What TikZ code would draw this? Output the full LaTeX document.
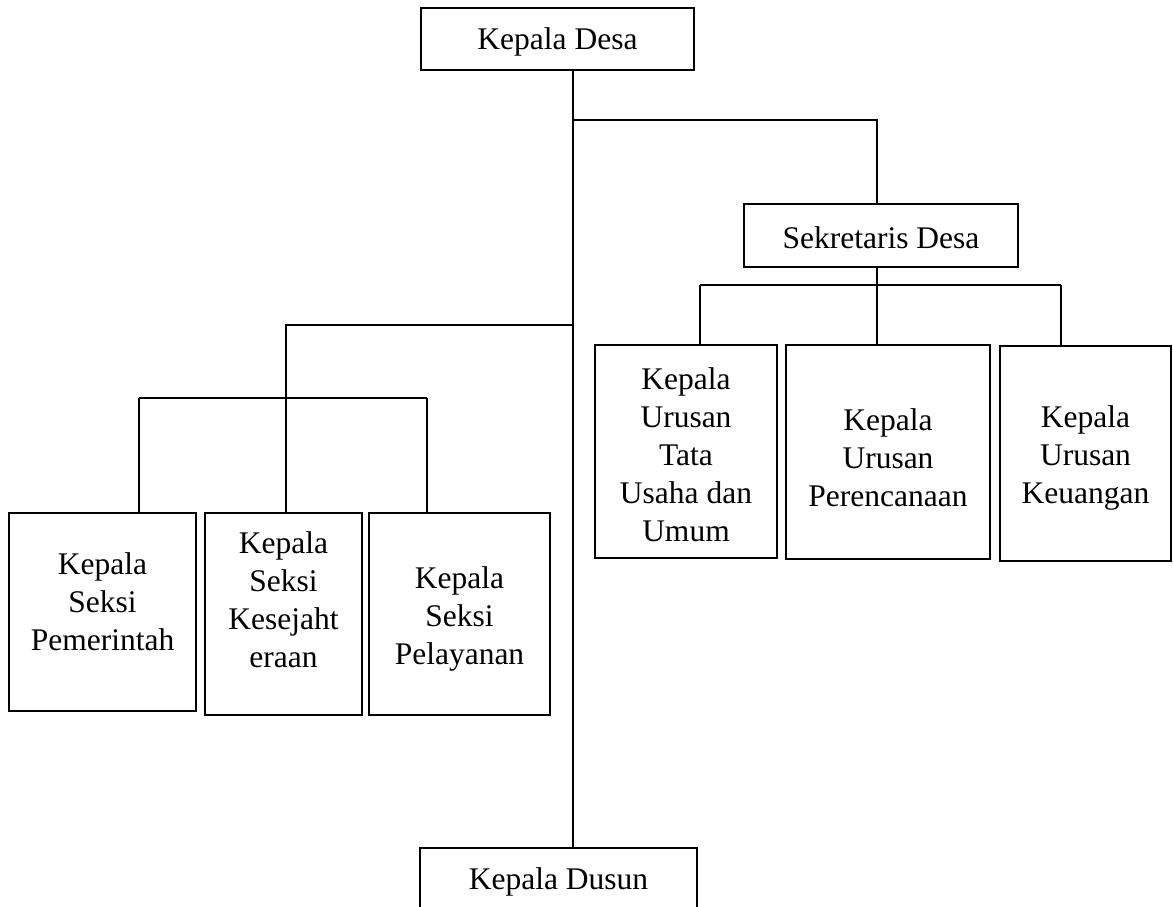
\documentclass[tikz,border=0pt]{standalone}
\usepackage{fontspec}
\setmainfont{Liberation Serif}
\begin{document}
\begin{tikzpicture}[x=1pt,y=-1pt,
  box/.style={draw=black,line width=2.8pt,fill=white,inner sep=0pt,font=\fontsize{31.5}{38}\selectfont},
  txt/.style={align=center,inner sep=0pt,font=\fontsize{31.5}{38}\selectfont},
  link/.style={draw=black,line width=1.3pt}]
\useasboundingbox (0,0) rectangle (1173,907);
\clip (0,0) rectangle (1173,907);
% junction coordinates
\coordinate (j1) at (573,120);
\coordinate (j3) at (573,325);
\coordinate (busR) at (877,285);
\coordinate (busRl) at (700,285);
\coordinate (busRr) at (1061,285);
\coordinate (lup) at (286,325);
\coordinate (busL) at (286,398);
\coordinate (busLl) at (139,398);
\coordinate (busLr) at (427,398);
% boxes
\node[box,minimum width=273pt,minimum height=62pt] (kd) at (557.5,39) {};
\node[txt] at (557.5,42) {Kepala Desa};
\node[box,minimum width=274pt,minimum height=63pt] (sd) at (881,235.5) {};
\node[txt] at (881,238) {Sekretaris Desa};
\node[box,minimum width=277pt,minimum height=62pt] (dusun) at (558.5,879) {};
\node[txt] at (558.5,882) {Kepala Dusun};
\node[box,minimum width=187pt,minimum height=198pt] (b1) at (102.5,612) {};
\node[txt] at (102.5,602) {Kepala\\Seksi\\Pemerintah};
\node[box,minimum width=157pt,minimum height=202pt] (b2) at (283.5,614) {};
\node[txt] at (283.5,600) {Kepala\\Seksi\\Kesejaht\\eraan};
\node[box,minimum width=181pt,minimum height=202pt] (b3) at (459.5,614) {};
\node[txt] at (459.5,619) {Kepala\\Seksi\\Pelayanan};
\node[box,minimum width=182pt,minimum height=213pt] (bA) at (686,451.5) {};
\node[txt] at (686,455) {Kepala\\Urusan\\Tata\\Usaha dan\\Umum};
\node[box,minimum width=204pt,minimum height=214pt] (bB) at (888,452) {};
\node[txt] at (888,458) {Kepala\\Urusan\\Perencanaan};
\node[box,minimum width=171pt,minimum height=215pt] (bC) at (1085.5,453.5) {};
\node[txt] at (1085.5,458) {Kepala\\Urusan\\Keuangan};
% lines
\draw[link] (kd.south -| j1) -- (dusun.north -| j1);
\draw[link] (j1) -| (sd.north -| busR);
\draw[link] (sd.south -| busR) -- (busR);
\draw[link] (busRl) -- (busRr);
\draw[link] (busRl) -- (bA.north -| busRl);
\draw[link] (busR) -- (bB.north -| busR);
\draw[link] (busRr) -- (bC.north -| busRr);
\draw[link] (j3) -- (lup) -- (busL);
\draw[link] (busLl) -- (busLr);
\draw[link] (busLl) -- (b1.north -| busLl);
\draw[link] (busL) -- (b2.north -| busL);
\draw[link] (busLr) -- (b3.north -| busLr);
\end{tikzpicture}
\end{document}
